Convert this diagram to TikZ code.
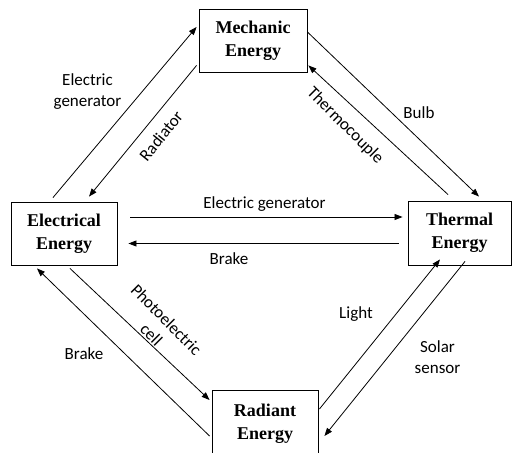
\documentclass[tikz,border=0pt]{standalone}
\usepackage{fontspec}
\setmainfont{Liberation Serif}
\newfontfamily\labfont{Carlito}
\usetikzlibrary{arrows.meta}
\tikzset{
  ebox/.style={draw, line width=0.9pt, inner sep=0pt, align=center,
    font=\fontsize{18}{23}\selectfont\bfseries},
  conn/.style={line width=0.8pt, -{Triangle[length=8pt,width=6pt]}},
  lab/.style={inner sep=0pt, align=center, font=\fontsize{17}{21}\selectfont\labfont}
}
\begin{document}
\begin{tikzpicture}[x=1pt,y=1pt]
\useasboundingbox (0,0) rectangle (512,453);
% boxes
\node[ebox, minimum width=108pt, minimum height=63pt] (mech) at (253,412.5) {Mechanic\\Energy};
\node[ebox, minimum width=106pt, minimum height=63pt] (elec) at (64,219.5) {Electrical\\Energy};
\node[ebox, minimum width=103pt, minimum height=64pt] (therm) at (459.5,220) {Thermal\\Energy};
\node[ebox, minimum width=106pt, minimum height=68pt] (rad) at (265,29) {Radiant\\Energy};
% connectors
\draw[conn] ([xshift=-11pt,yshift=4pt]elec.north) -- ([xshift=-2pt,yshift=13.5pt]mech.west);
\draw[conn] ([xshift=-2pt,yshift=7pt]mech.south west) -- ([xshift=25pt,yshift=5pt]elec.north);
\draw[conn] ([yshift=8.5pt]mech.east) -- ([xshift=19.5pt,yshift=4pt]therm.north);
\draw[conn] ([xshift=-11.5pt,yshift=6pt]therm.north) -- ([xshift=1pt,yshift=7pt]mech.south east);
\draw[conn] ([xshift=13pt,yshift=16.5pt]elec.east) -- ([xshift=-5pt,yshift=16pt]therm.west);
\draw[conn] ([xshift=-9pt,yshift=-10.5pt]therm.west) -- ([xshift=11pt,yshift=-10pt]elec.east);
\draw[conn] ([xshift=6pt,yshift=-3pt]elec.south) -- ([xshift=-2pt,yshift=24pt]rad.west);
\draw[conn] ([xshift=-2pt,yshift=-12pt]rad.west) -- ([xshift=-27pt,yshift=-3pt]elec.south);
\draw[conn] ([xshift=1pt,yshift=15pt]rad.east) -- ([xshift=-19.5pt,yshift=6pt]therm.south);
\draw[conn] ([xshift=5.5pt,yshift=4pt]therm.south) -- ([xshift=6pt,yshift=-12pt]rad.east);
% labels
\node[lab] (l1) at (87.5,361.5) {Electric\\generator};
\node[lab, rotate=51] (l2) at (161,317) {Radiator};
\node[lab, rotate=-45] (l3) at (345,327) {Thermocouple};
\node[lab] (l4) at (419,340) {Bulb};
\node[lab] (l5) at (264.5,249) {Electric generator};
\node[lab] (l6) at (229,194) {Brake};
\node[lab, rotate=-45] (l7) at (159,126) {Photoelectric\\cell};
\node[lab] (l8) at (84,99) {Brake};
\node[lab] (l9) at (356,139) {Light};
\node[lab] (l10) at (437.5,95.5) {Solar\\sensor};
\end{tikzpicture}
\end{document}
